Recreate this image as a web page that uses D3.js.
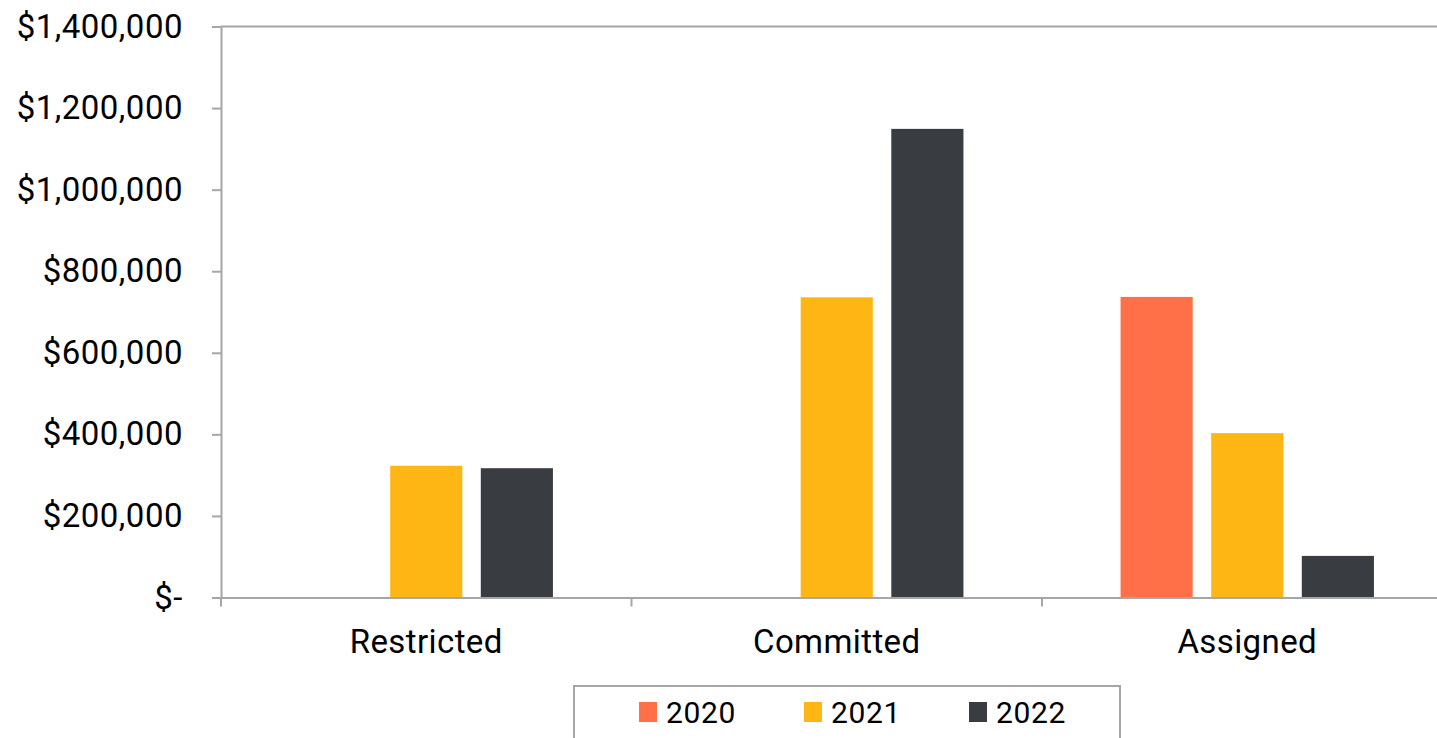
<!DOCTYPE html>
<html>
<head>
<meta charset="utf-8">
<script src="https://cdn.jsdelivr.net/npm/d3@7"></script>
<style>
  html, body { margin: 0; padding: 0; background: #fff; overflow: hidden; }
  text { font-family: Roboto, "Noto Sans", sans-serif; fill: #000; }
</style>
</head>
<body>
<div id="chart"></div>
<script>
// categories and series
const categories = ["Restricted", "Committed", "Assigned"];
const years = ["2020", "2021", "2022"];
const values2020 = [0, 0, 737000];
const values2021 = [323000, 736000, 403000];
const values2022 = [317000, 1149000, 102000];
const yTicks = [0, 200000, 400000, 600000, 800000, 1000000, 1200000, 1400000];
const colors = ["#FF7049", "#FDB614", "#393D41"];

const W = 1437, H = 738;
const margin = {top: 26.5, left: 221, bottom: 140.5};
const plotRight = 1452.5;
const axisColor = "#A6A6A6";

const seriesValues = [values2020, values2021, values2022];
const rows = categories.map((c, i) => {
    const row = {category: c};
    years.forEach((yr, j) => { row[yr] = seriesValues[j][i]; });
    return row;
});

const svg = d3.select("#chart")
    .append("svg")
    .attr("width", W)
    .attr("height", H);

const x0 = d3.scaleBand()
    .domain(categories)
    .range([margin.left, plotRight])
    .padding(0);

const x1 = d3.scaleBand()
    .domain(years)
    .range([0, x0.bandwidth()])
    .paddingInner(0.204)
    .paddingOuter(0.867);

const y = d3.scaleLinear()
    .domain([0, 1400000])
    .range([H - margin.bottom, margin.top]);

const color = d3.scaleOrdinal().domain(years).range(colors);

// top border of plot area
svg.append("line")
    .attr("x1", margin.left).attr("x2", plotRight)
    .attr("y1", y(1400000)).attr("y2", y(1400000))
    .attr("stroke", axisColor).attr("stroke-width", 2);

// bars
const groups = svg.append("g")
    .selectAll("g")
    .data(rows)
    .join("g")
    .attr("transform", d => `translate(${x0(d.category)},0)`);

groups.selectAll("rect")
    .data(d => years.map(yr => ({key: yr, value: d[yr]})).filter(e => e.value > 0))
    .join("rect")
    .attr("x", d => x1(d.key))
    .attr("width", x1.bandwidth())
    .attr("y", d => y(d.value))
    .attr("height", d => y(0) - y(d.value))
    .attr("fill", d => color(d.key));

// y axis
const fmt = d3.format(",");
const yAxis = svg.append("g")
    .attr("transform", `translate(${margin.left},0)`)
    .call(d3.axisLeft(y)
        .tickValues(yTicks)
        .tickSize(9)
        .tickPadding(29)
        .tickFormat(d => d === 0 ? "$-" : "$" + fmt(d)));
yAxis.select(".domain").attr("stroke", axisColor).attr("stroke-width", 2);
yAxis.selectAll(".tick line").attr("stroke", axisColor).attr("stroke-width", 2);
yAxis.selectAll(".tick text")
    .style("font-size", "33px")
    .style("letter-spacing", "0.5px")
    .attr("fill", "#000");

// x axis (labels centered, ticks at band edges)
const xAxis = svg.append("g")
    .attr("transform", `translate(0,${y(0)})`)
    .call(d3.axisBottom(x0).tickSize(0).tickPadding(32).tickSizeOuter(0));
xAxis.select(".domain").attr("stroke", axisColor).attr("stroke-width", 2);
xAxis.selectAll(".tick text")
    .style("font-size", "33px")
    .style("letter-spacing", "0.4px")
    .attr("fill", "#000");

const edges = categories.map(c => x0(c)).concat([plotRight]);
xAxis.selectAll(".edge")
    .data(edges)
    .join("line")
    .attr("class", "edge")
    .attr("x1", d => d).attr("x2", d => d)
    .attr("y1", 0).attr("y2", 9)
    .attr("stroke", axisColor).attr("stroke-width", 2);

// legend
const legend = svg.append("g");
legend.append("rect")
    .attr("x", 574).attr("y", 686)
    .attr("width", 546).attr("height", 80)
    .attr("fill", "#fff")
    .attr("stroke", axisColor).attr("stroke-width", 2);

const items = legend.selectAll(".legend-item")
    .data(years)
    .join("g")
    .attr("class", "legend-item")
    .attr("transform", (d, i) => `translate(${639 + i * 165},702)`);

items.append("rect")
    .attr("width", 18)
    .attr("height", 20)
    .attr("fill", d => color(d));

items.append("text")
    .attr("x", 27)
    .attr("y", 21)
    .style("font-size", "30px")
    .style("letter-spacing", "0.6px")
    .text(d => d);
</script>
</body>
</html>
